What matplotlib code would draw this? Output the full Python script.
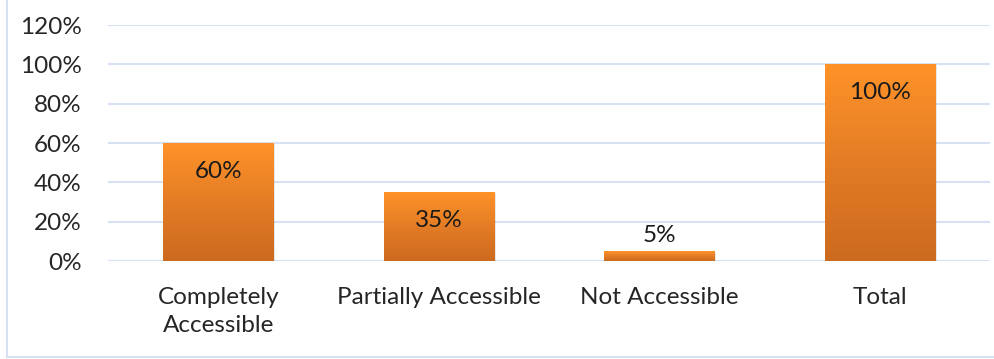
import numpy as np
import matplotlib
matplotlib.use("Agg")
import matplotlib.pyplot as plt
from matplotlib.colors import LinearSegmentedColormap
from matplotlib.lines import Line2D

# data
categories = ["Completely\nAccessible", "Partially Accessible", "Not Accessible", "Total"]
values = [60, 35, 5, 100]
labels = ["60%", "35%", "5%", "100%"]
yticks = [0, 20, 40, 60, 80, 100, 120]

plt.rcParams['font.family'] = ['Lato', 'DejaVu Sans']
FS = 17.5

fig = plt.figure(figsize=(9.95, 3.59), dpi=100)
ax = fig.add_axes([108 / 995, 98 / 359, 882 / 995, 236 / 359])

grad = LinearSegmentedColormap.from_list("og", ["#CC6A1F", "#E37C25", "#FF9329"])
g = np.linspace(0, 1, 256).reshape(-1, 1)

x = np.arange(len(categories))
w = 0.5
for xi, v, lab in zip(x, values, labels):
    ax.imshow(g, extent=[xi - w / 2, xi + w / 2, 0, v], origin="lower",
              cmap=grad, aspect="auto", zorder=3)
    ax.add_patch(plt.Rectangle((xi - w / 2 + 0.008, -0.4), w, v, facecolor="#00000018",
                               edgecolor="none", zorder=2))
    off = -28 if v > 20 else 16
    ax.annotate(lab, (xi, v), xytext=(0, off), textcoords="offset pixels",
                ha="center", va="center", fontsize=FS, color="#1a1a1a", zorder=4)

ax.set_xlim(-0.5, len(categories) - 0.5)
ax.set_ylim(0, 120)
ax.set_yticks(yticks)
ax.set_yticklabels([f"{t}%" for t in yticks], fontsize=FS, color="#262626")
ax.set_xticks(x)
ax.set_xticklabels(categories, fontsize=FS, color="#262626", linespacing=1.4)
ax.tick_params(length=0)
ax.tick_params(axis="y", pad=19)
ax.tick_params(axis="x", pad=19)
for s in ax.spines.values():
    s.set_visible(False)
ax.grid(axis="y", color="#D6E2F3", linewidth=1.5, zorder=0)
ax.set_axisbelow(True)

# outer frame (left and bottom visible)
fig.add_artist(Line2D([7 / 995, 7 / 995], [2 / 359, 1], color="#D6E2F3", linewidth=1.5))
fig.add_artist(Line2D([7 / 995, 1], [2 / 359, 2 / 359], color="#D6E2F3", linewidth=1.5))

fig.savefig("out.png", dpi=100, facecolor="white")
